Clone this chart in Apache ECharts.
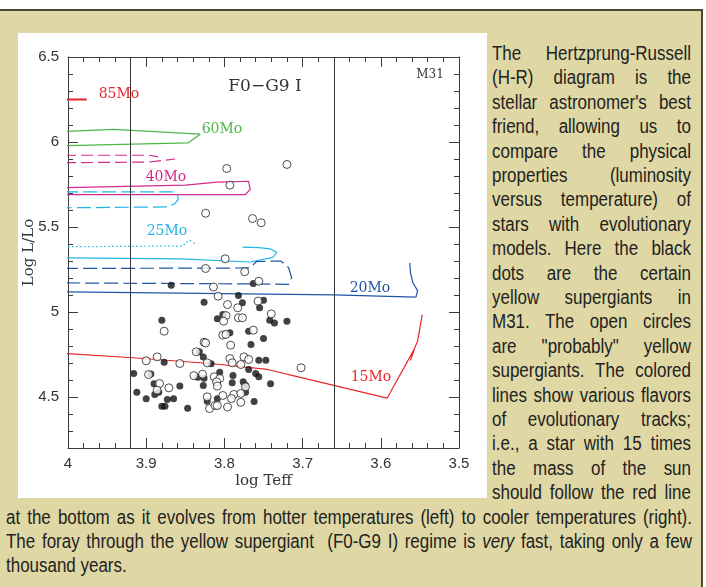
<!DOCTYPE html>
<html>
<head>
<meta charset="utf-8">
<script src="https://cdn.jsdelivr.net/npm/echarts@6/dist/echarts.min.js"></script>
<style>
html, body { margin: 0; padding: 0; background: #fff; width: 706px; height: 587px; overflow: hidden; }
#panel { position: absolute; left: 0; top: 9px; width: 701px; height: 580px; background: #e0d8a4;
  border-top: 2px solid #4a4736; border-right: 2px solid #4a4736; }
#hr { position: absolute; left: 18px; top: 33px; width: 469px; height: 465px; background: #fff; }
.ln { position: absolute; font-family: "Liberation Sans", Arial, sans-serif; font-size: 19.5px; line-height: 24.4px;
  height: 24.4px; color: #222; transform-origin: 0 0; text-align: justify; text-align-last: justify; }
.ln.last { text-align: left; text-align-last: left; }
</style>
</head>
<body>
<div id="panel"></div>
<div id="hr"></div>
<script>
// ---------------- data ----------------
var teffRange = [3.5, 4.0];
var lumRange = [4.2, 6.5];
var xTickLabels = ['4', '3.9', '3.8', '3.7', '3.6', '3.5'];
var yTickLabels = ['4.5', '5', '5.5', '6', '6.5'];
var yellowBounds = [3.916, 3.659];   // F0-G9 I region edges

// certain yellow supergiants (filled)
var certain = [
  [3.868,5.158],[3.763,5.168],[3.782,5.097],[3.826,5.058],[3.777,5.054],[3.750,5.069],[3.755,5.025],
  [3.802,4.985],[3.809,4.960],[3.742,4.952],[3.736,4.936],[3.720,4.946],[3.880,4.952],[3.793,4.878],
  [3.769,4.887],[3.750,4.844],[3.766,4.809],[3.832,4.766],[3.827,4.736],[3.817,4.695],[3.756,4.716],
  [3.747,4.716],[3.769,4.662],[3.760,4.638],[3.756,4.619],[3.877,4.705],[3.916,4.638],[3.894,4.636],
  [3.834,4.616],[3.826,4.611],[3.806,4.646],[3.789,4.626],[3.790,4.584],[3.776,4.589],[3.773,4.569],
  [3.741,4.578],[3.890,4.578],[3.857,4.564],[3.827,4.568],[3.884,4.528],[3.889,4.515],[3.912,4.528],
  [3.900,4.489],[3.873,4.485],[3.865,4.489],[3.773,4.528],[3.809,4.489],[3.822,4.475],[3.762,4.474],
  [3.880,4.446],[3.876,4.446],[3.847,4.434]
];
// probable yellow supergiants (open)
var probable = [
  [3.797,5.844],[3.720,5.868],[3.793,5.746],[3.824,5.581],[3.764,5.550],[3.753,5.525],[3.799,5.313],
  [3.824,5.256],[3.774,5.237],[3.756,5.181],[3.814,5.147],[3.808,5.093],[3.796,5.044],[3.783,5.025],
  [3.757,5.064],[3.798,4.979],[3.801,4.946],[3.782,4.966],[3.777,4.966],[3.740,4.989],[3.877,4.887],
  [3.802,4.864],[3.798,4.868],[3.763,4.893],[3.792,4.805],[3.826,4.822],[3.824,4.818],[3.836,4.766],
  [3.822,4.701],[3.793,4.726],[3.790,4.701],[3.775,4.736],[3.769,4.721],[3.779,4.691],[3.702,4.672],
  [3.900,4.713],[3.886,4.736],[3.857,4.697],[3.897,4.632],[3.839,4.626],[3.828,4.634],[3.813,4.619],
  [3.806,4.609],[3.810,4.589],[3.809,4.564],[3.773,4.560],[3.883,4.579],[3.871,4.554],[3.886,4.540],
  [3.822,4.501],[3.802,4.509],[3.788,4.515],[3.791,4.491],[3.779,4.521],[3.779,4.469],[3.819,4.432],
  [3.812,4.450],[3.809,4.450],[3.796,4.441]
];

// evolutionary tracks
var track85 = [[4.005,6.25],[3.976,6.25]];
var track60 = [[4.005,6.062],[3.942,6.074],[3.831,6.046],[3.846,5.995],[4.005,5.978]];
var track40dashA = [[4.005,5.922],[3.895,5.922],[3.885,5.912]];
var track40dashB = [[4.005,5.878],[3.897,5.882],[3.863,5.900]];
var track40 = [[4.005,5.731],[3.850,5.746],[3.809,5.764],[3.769,5.769],[3.767,5.721],[3.773,5.691],[4.005,5.691]];
var track25dash = [[4.005,5.707],[3.867,5.707],[3.860,5.691],[3.859,5.662],[3.864,5.635],[3.874,5.618],[4.005,5.613]];
var track25dot = [[4.005,5.384],[3.853,5.388],[3.849,5.409],[3.844,5.421],[3.838,5.403],[3.835,5.397]];
var track25 = [[4.005,5.318],[3.856,5.312],[3.767,5.294],[3.738,5.321],[3.733,5.350],[3.741,5.371],[3.756,5.379],[3.777,5.382]];
var track20dash = [[4.005,5.256],[3.767,5.259],[3.759,5.297],[3.728,5.300],[3.718,5.262],[3.714,5.203],[3.718,5.162],[3.754,5.165],[4.005,5.171]];
var track20 = [[4.005,5.118],[3.660,5.101],[3.555,5.088],[3.553,5.126],[3.559,5.172],[3.562,5.231],[3.563,5.289]];
var track15 = [[4.005,4.756],[3.917,4.731],[3.818,4.697],[3.745,4.662],[3.703,4.615],[3.660,4.568],[3.592,4.493],[3.557,4.783],[3.562,4.715],[3.556,4.797],[3.553,4.827],[3.547,4.985]];

var sideLines = [
  'The Hertzprung-Russell',
  '(H-R) diagram is the',
  "stellar astronomer's best",
  'friend, allowing us to',
  'compare the physical',
  'properties (luminosity',
  'versus temperature) of',
  'stars with evolutionary',
  'models. Here the black',
  'dots are the certain',
  'yellow supergiants in',
  'M31. The open circles',
  'are "probably" yellow',
  'supergiants. The colored',
  'lines show various flavors',
  'of evolutionary tracks;',
  'i.e., a star with 15 times',
  'the mass of the sun',
  'should follow the red line'
];
var footLines = [
  'at the bottom as it evolves from hotter temperatures (left) to cooler temperatures (right).',
  'The foray through the yellow supergiant&nbsp; (F0-G9 I) regime is <i>very</i> fast, taking only a few',
  'thousand years.'
];

// ---------------- text around the figure ----------------
var sx = 0.87;
function addLine(html, left, width, center, last) {
  var d = document.createElement('div');
  d.className = 'ln' + (last ? ' last' : '');
  d.innerHTML = html;
  d.style.left = left + 'px';
  d.style.top = (center - 13) + 'px';
  d.style.width = (width / sx) + 'px';
  d.style.transform = 'scaleX(' + sx + ')';
  document.body.appendChild(d);
}
sideLines.forEach(function (t, i) { addLine(t, 492, 199, 54 + 24.4 * i, false); });
footLines.forEach(function (t, i) { addLine(t, 6, 686, 54 + 24.4 * (19 + i), i === 2); });

// ---------------- chart ----------------
var dom = document.getElementById('hr');
var myChart = echarts.init(dom);
var axisColor = '#3c3c3c';
var labelFont = { fontFamily: 'Liberation Sans', fontSize: 15, color: '#333' };
var serif = 'DejaVu Serif';

function track(pts, color, dash, w) {
  return {
    type: 'line', data: pts, symbol: 'none', showSymbol: false, silent: true, z: 2,
    lineStyle: { color: color, width: w || 1.2, type: dash || 'solid' }
  };
}
function frameX(pos, labels) {
  return {
    type: 'value', position: pos, min: teffRange[0], max: teffRange[1], interval: 0.1, inverse: true,
    axisLine: { show: true, onZero: false, lineStyle: { color: axisColor, width: 1 } },
    axisTick: { show: true, inside: true, length: 10, lineStyle: { color: axisColor } },
    minorTick: { show: true, splitNumber: 5, length: 5, lineStyle: { color: axisColor } },
    splitLine: { show: false },
    axisLabel: Object.assign({ show: labels, margin: 8 }, labelFont)
  };
}
function frameY(pos, labels) {
  return {
    type: 'value', position: pos, min: lumRange[0], max: lumRange[1], minInterval: 0.5, maxInterval: 0.5,
    axisLine: { show: true, onZero: false, lineStyle: { color: axisColor, width: 1 } },
    axisTick: { show: true, inside: true, length: 10, lineStyle: { color: axisColor } },
    minorTick: { show: true, splitNumber: 5, length: 5, lineStyle: { color: axisColor } },
    splitLine: { show: false },
    axisLabel: Object.assign({ show: labels, margin: 9, showMinLabel: false }, labelFont)
  };
}

var xBottom = frameX('bottom', true);
xBottom.name = 'log Teff';
xBottom.nameLocation = 'middle';
xBottom.nameGap = 26;
xBottom.nameMoveOverlap = false;
xBottom.nameTextStyle = { fontFamily: serif, fontSize: 15, color: '#333' };
var yLeft = frameY('left', true);
yLeft.name = 'Log L/Lo';
yLeft.nameLocation = 'middle';
yLeft.nameGap = 31;
yLeft.nameMoveOverlap = false;
yLeft.nameTextStyle = { fontFamily: serif, fontSize: 15, color: '#333' };

var red = '#e8262b', green = '#4cb848', magenta = '#d42a8c', cyan = '#22b5e3', blue = '#1f55a5';

function tag(text, x, y, color, size) {
  return {
    type: 'text', x: x, y: y, silent: true,
    style: { text: text, fill: color, font: size + 'px "' + serif + '"', align: 'center', verticalAlign: 'middle',
      textAlign: 'center', textVerticalAlign: 'middle' }
  };
}

option = {
  animation: false,
  grid: { left: 50, top: 24, width: 391, height: 391, containLabel: false, outerBoundsMode: 'none' },
  xAxis: [xBottom, frameX('top', false)],
  yAxis: [yLeft, frameY('right', false)],
  graphic: [
    tag('F0\u2212G9 I', 247, 54, '#333', 17),
    tag('M31', 412, 42, '#333', 12),
    tag('85Mo', 101, 61, red, 14),
    tag('60Mo', 204, 96, green, 14),
    tag('40Mo', 148, 144, magenta, 14),
    tag('25Mo', 149, 198, cyan, 14),
    tag('20Mo', 352, 255, blue, 14),
    tag('15Mo', 353, 344, red, 14)
  ],
  series: [
    {
      type: 'line', data: [], silent: true,
      markLine: {
        symbol: 'none', silent: true, label: { show: false },
        lineStyle: { color: '#333', width: 1, type: 'solid' },
        data: yellowBounds.map(function (v) { return { xAxis: v }; })
      }
    },
    track(track85, red, null, 2),
    track(track60, green),
    track(track40dashA, magenta, [12, 5]),
    track(track40dashB, magenta, [12, 5]),
    track(track40, magenta),
    track(track25dash, cyan, [14, 5]),
    track(track25dot, cyan, [1.5, 2.5]),
    track(track25, cyan),
    track(track20dash, blue, [14, 5]),
    track(track20, blue),
    track(track15, red),
    {
      type: 'scatter', data: certain, symbol: 'circle', symbolSize: 7, z: 3, silent: true,
      itemStyle: { color: '#111' }
    },
    {
      type: 'scatter', data: probable, symbol: 'circle', symbolSize: 8, z: 4, silent: true,
      itemStyle: { color: '#fff', borderColor: '#222', borderWidth: 1 }
    }
  ]
};
if (option && typeof option === 'object') {
  myChart.setOption(option, true);
}
</script>
</body>
</html>
